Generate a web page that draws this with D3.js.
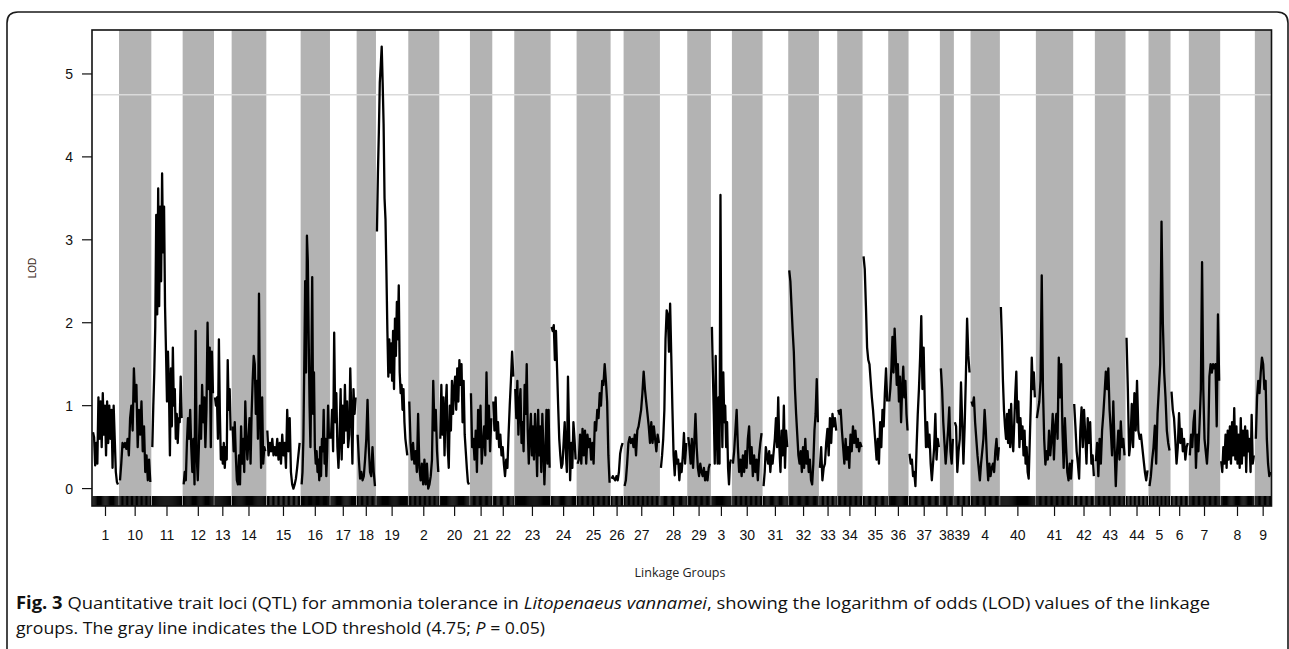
<!DOCTYPE html>
<html>
<head>
<meta charset="utf-8">
<script src="https://cdn.jsdelivr.net/npm/d3@7"></script>
<style>
  body { margin: 0; background: #fff; }
  svg { display: block; }
</style>
</head>
<body>
<svg id="chart" width="1289" height="649"></svg>
<script>
// Linkage groups in map order and their lengths (cM)
const groupNames = ["1","10","11","12","13","14","15","16","17","18","19",
  "2","20","21","22","23","24","25","26","27","28","29",
  "3","30","31","32","33","34","35","36","37","38","39",
  "4","40","41","42","43","44","5","6","7","8","9"];
const groupLengthsCM = [75,91,88,88,47,98,97,82,74,52,91,
  87,86,61,60,103,72,96,33,103,76,65,
  57,86,71,86,49,70,71,55,88,36,44,
  82,102,106,59,86,63,60,49,88,98,44];
const groupGapCM = 6;

// LOD profile along each linkage group (evenly spaced scan positions)
const lodLG1  = [0.68,0.62,0.28,0.55,0.3,1.1,0.6,1.05,0.5,1.15,0.65,1.0,0.4,1.05,0.55,1.0,0.6,0.95,0.25,1.0,0.6,0.2,0.08,0.05];
const lodLG10 = [0.1,0.3,0.55,0.5,0.55,0.48,0.6,0.4,0.85,1.0,0.7,1.45,1.05,1.25,0.5,0.95,0.65,1.05,0.45,0.75,0.2,0.4,0.1,0.35,0.08];
const lodLG11 = [0.5,1.0,1.4,1.95,3.3,2.1,3.62,2.2,3.4,2.5,3.8,2.85,3.4,2.2,1.65,1.05,1.65,1.2,0.4,1.45,0.75,1.7,1.0,1.2,0.6,0.9,0.55,0.85,0.8,1.35,0.85];
const lodLG12 = [0.05,0.2,0.1,0.55,0.85,0.6,0.95,0.5,0.2,0.6,0.05,1.9,0.4,0.1,0.5,1.0,0.6,1.25,0.8,1.1,0.5,0.95,2.0,1.2,1.7,0.5,1.65,1.15];
const lodLG13 = [1.1,1.0,1.1,0.6,1.8,0.9,0.35,0.5,0.3,0.55,0.25,0.5,0.35,1.55,0.95,1.2,0.7];
const lodLG14 = [0.75,0.45,0.8,0.4,0.1,0.05,0.4,0.05,0.75,0.3,0.6,0.2,1.05,0.6,0.35,0.6,0.85,0.3,0.9,1.3,1.6,1.5,0.9,1.3,0.6,2.35,0.9,0.25,1.1,0.3,0.5,0.45];
const lodLG15 = [0.7,0.4,0.55,0.45,0.6,0.4,0.5,0.4,0.6,0.35,0.55,0.3,0.65,0.4,0.55,0.25,0.95,0.45,0.85,0.2,0.05,0.0,0.05,0.12,0.25,0.4,0.55];
const lodLG16 = [0.05,0.2,0.6,1.5,2.5,1.4,3.05,2.75,1.8,1.0,0.5,1.4,2.55,0.9,1.4,0.5,0.3,0.45,0.2,0.35,0.1,0.5,0.15,0.6,0.45,0.95,0.3,0.6,0.15,0.45,1.0,0.6];
const lodLG17 = [0.6,0.95,0.45,1.88,0.8,1.15,0.5,0.25,0.6,1.2,0.35,1.0,0.55,1.25,0.7,1.05,0.5,0.65,1.45,0.9,0.3,1.2,0.9,1.1];
const lodLG18 = [0.65,0.35,0.12,0.2,0.1,0.15,0.35,0.6,1.07,0.5,0.2,0.15,0.5,0.2,0.03];
const lodLG19 = [3.1,3.8,4.3,4.9,5.1,5.33,4.9,4.4,3.5,3.25,2.6,1.9,1.35,1.8,1.4,1.75,1.3,1.9,1.2,2.05,1.6,2.25,1.8,2.45,1.4,1.15,1.25,0.95,1.2,0.8,0.6,0.5,0.4];
const lodLG2  = [1.05,0.55,0.35,0.55,0.3,0.45,0.2,0.9,0.25,0.1,0.3,0.05,0.35,0.05,0.3,0.0,0.05,0.15,0.35,1.3,0.7,0.95,0.45,0.2];
const lodLG20 = [0.6,1.25,0.65,1.1,0.4,0.95,1.25,0.5,0.25,1.0,0.7,1.3,0.9,1.2,1.35,0.95,1.45,1.05,1.55,1.25,1.5,0.8,1.3,0.65,0.45,0.25,0.08,0.05];
const lodLG21 = [1.15,0.5,0.6,0.35,0.7,0.2,0.95,0.5,1.0,0.3,0.55,0.75,0.4,1.4,0.6,1.0,0.45,0.85];
const lodLG22 = [1.05,0.7,1.1,0.6,0.8,0.5,0.65,0.4,0.5,0.3,0.15,0.35,0.25,0.65,1.0,1.3,1.65,1.35];
const lodLG23 = [1.2,0.85,1.3,0.65,1.0,1.2,0.55,0.8,0.45,1.25,0.9,1.5,0.7,0.3,0.65,0.9,0.4,0.75,0.35,0.9,0.6,0.15,0.95,0.4,0.75,0.2,0.9,0.5,0.05,0.45,0.95,0.3,0.95,0.25];
const lodLG24 = [1.95,1.9,1.97,1.55,1.9,1.45,1.0,0.6,0.4,0.25,0.3,0.55,0.8,0.45,0.2,1.35,0.7,0.1,0.55,0.25,0.8,0.6,0.35];
const lodLG25 = [0.3,0.35,0.65,0.3,0.72,0.4,0.7,0.3,0.65,0.5,0.6,0.35,0.55,0.3,0.8,0.7,0.95,0.85,1.15,1.0,1.3,1.25,1.5,1.3,1.05,0.4,0.07];
const lodLG26 = [0.12,0.15,0.12,0.1,0.15,0.1,0.2,0.42,0.5,0.55];
const lodLG27 = [0.03,0.1,0.3,0.55,0.62,0.55,0.6,0.5,0.65,0.4,0.7,0.75,0.85,0.95,1.15,1.41,1.2,1.05,0.9,0.75,0.55,0.8,0.55,0.75,0.6,0.45,0.65,0.55];
const lodLG28 = [0.25,0.4,0.6,0.95,1.8,2.15,2.1,1.65,2.23,1.6,0.95,0.4,0.16,0.45,0.3,0.35,0.1,0.3,0.2,0.4,0.67,0.3,0.55];
const lodLG29 = [0.62,0.5,0.3,0.6,0.25,0.55,0.9,0.5,0.25,0.15,0.3,0.2,0.15,0.25,0.1,0.2,0.1,0.25,0.3];
const lodLG3  = [1.95,1.4,0.9,0.3,1.6,0.7,0.3,1.1,0.3,3.54,1.2,0.5,1.4,0.8,1.0,0.5,0.8,0.25,0.05,0.3,0.35];
const lodLG30 = [0.3,0.45,0.7,0.95,0.5,0.2,0.35,0.15,0.4,0.2,0.45,0.25,0.6,0.75,0.3,0.5,0.15,0.4,0.2,0.35,0.1,0.4,0.55,0.67];
const lodLG31 = [0.03,0.2,0.5,0.4,0.3,0.45,0.2,0.4,0.3,0.45,0.6,0.85,0.5,1.1,0.5,0.2,0.7,0.4,1.0,0.25,0.7,0.5];
const lodLG32 = [2.63,2.5,2.2,1.9,1.65,1.2,0.9,0.65,0.4,0.3,0.45,0.2,0.5,0.25,0.6,0.3,0.45,0.2,0.35,0.1,0.05,0.3,0.7,0.9,1.32,0.8];
const lodLG33 = [0.25,0.5,0.1,0.25,0.3,0.55,0.72,0.4,0.85,0.55,0.9,0.75,0.85,0.7];
const lodLG34 = [0.95,0.9,0.95,0.7,0.5,0.3,0.6,0.35,0.5,0.25,0.65,0.45,0.75,0.55,0.7,0.5,0.6,0.45,0.55,0.5];
const lodLG35 = [2.8,2.65,2.2,1.7,1.55,1.5,1.3,1.1,0.95,0.75,0.55,0.35,0.6,0.3,0.8,0.5,0.95,0.75,1.15,1.45,1.05];
const lodLG36 = [1.05,1.2,1.45,1.83,1.4,1.93,1.6,1.25,1.5,1.05,1.35,0.8,1.2,1.47,1.1,1.3,0.9,0.7];
const lodLG37 = [0.42,0.3,0.35,0.15,0.2,0.03,0.5,0.9,1.2,1.58,2.08,1.2,1.7,1.0,0.5,0.8,0.5,0.65,0.3,0.1,0.3,0.5,0.9,0.35,0.6,0.5];
const lodLG38 = [1.45,1.2,0.8,0.55,0.3,0.5,0.7,0.98,0.45,0.3,0.6];
const lodLG39 = [0.8,0.75,0.2,0.45,0.6,1.28,0.8,0.3,0.75,1.35,2.05,1.6,1.4];
const lodLG4  = [1.05,1.0,1.1,0.8,0.6,0.4,0.25,0.1,0.3,0.45,0.6,0.95,0.7,0.35,0.1,0.3,0.15,0.25,0.3,0.2,0.45,0.6,0.35,0.5];
const lodLG40 = [2.19,1.8,1.3,0.95,0.75,0.6,0.9,0.55,0.95,0.5,1.02,0.6,0.45,0.8,1.15,1.41,0.8,1.05,0.5,0.85,0.6,0.75,0.4,0.7,0.3,0.5,0.2,0.12,0.55,1.0,1.58,1.2,1.4,1.1];
const lodLG41 = [0.85,0.95,1.05,1.3,2.57,1.2,0.6,0.29,0.45,0.35,0.7,0.4,0.6,0.9,0.35,0.75,0.9,0.6,1.58,1.1,1.5,0.7,0.25,0.85,0.5,0.2,0.1,0.3,0.12,0.35];
const lodLG42 = [1.02,0.75,0.45,0.3,0.12,0.7,0.98,0.5,0.95,0.65,0.3,0.85,0.55,0.8,0.3,0.4,0.15];
const lodLG43 = [0.33,0.55,0.15,0.6,0.3,0.7,0.9,1.15,1.41,1.2,1.45,0.95,0.7,0.4,1.05,0.5,0.03,0.45,0.7,0.35,0.81,0.5,0.6,0.4];
const lodLG44 = [1.82,1.2,0.4,0.55,1.02,0.5,1.15,0.7,1.3,0.7,0.6,0.65,0.5,0.35,0.2,0.1,0.22];
const lodLG5  = [0.03,0.15,0.35,0.5,0.76,0.3,0.9,1.2,1.5,3.22,2.0,1.4,1.1,0.7,0.55,0.46];
const lodLG6  = [1.17,0.95,0.85,0.6,0.3,0.5,0.91,0.55,0.72,0.45,0.6,0.35,0.5,0.55];
const lodLG7  = [0.4,0.65,0.5,0.8,0.94,0.25,0.65,0.45,0.8,1.2,2.73,1.2,0.6,0.45,0.3,0.55,1.35,1.5,1.4,1.5,1.45,1.5,0.75,2.1,1.3];
const lodLG8  = [0.33,0.2,0.5,0.3,0.65,0.25,0.7,0.35,0.75,0.3,0.8,0.4,0.97,0.35,0.75,0.3,0.65,0.25,0.85,0.3,0.7,0.4,0.75,0.2,0.7,0.45,0.6,0.2,0.89,0.3,0.4];
const lodLG9  = [0.6,1.1,1.3,1.15,1.4,1.58,1.5,1.2,1.3,0.6,0.3,0.15,0.2];

const lodProfiles = [lodLG1,lodLG10,lodLG11,lodLG12,lodLG13,lodLG14,lodLG15,lodLG16,lodLG17,lodLG18,lodLG19,
  lodLG2,lodLG20,lodLG21,lodLG22,lodLG23,lodLG24,lodLG25,lodLG26,lodLG27,lodLG28,lodLG29,
  lodLG3,lodLG30,lodLG31,lodLG32,lodLG33,lodLG34,lodLG35,lodLG36,lodLG37,lodLG38,lodLG39,
  lodLG4,lodLG40,lodLG41,lodLG42,lodLG43,lodLG44,lodLG5,lodLG6,lodLG7,lodLG8,lodLG9];

const yTickValues = [0, 1, 2, 3, 4, 5];
const lodThreshold = 4.75;

// ---- layout ----
const plot = { left: 92, right: 1271.5, top: 30, bottom: 506 };

// cumulative genome coordinate: each group occupies its length plus a gap
let cursor = 0;
const groups = groupNames.map((name, i) => {
  const start = cursor;
  const span = groupLengthsCM[i] + groupGapCM;
  cursor += span;
  const vals = lodProfiles[i];
  const L = groupLengthsCM[i];
  const pts = vals.map((v, k) => ({
    pos: start + groupGapCM / 2 + (vals.length > 1 ? (k / (vals.length - 1)) * L : L / 2),
    lod: v
  }));
  return { name, start, end: start + span, mid: start + span / 2, pts, index: i };
});
const genomeLength = cursor;

const x = d3.scaleLinear().domain([0, genomeLength]).range([plot.left, plot.right]);
const y = d3.scaleLinear().domain([-0.21, 5.53]).range([plot.bottom, plot.top]);

const svg = d3.select("#chart");

// outer figure frame (rounded top corners)
svg.append("path")
  .attr("d", "M7,649 V23 Q7,12 18,12 H1277 Q1288,12 1288,23 V649")
  .attr("fill", "none").attr("stroke", "#1a1a1a").attr("stroke-width", 1.6);

// alternating linkage-group bands
svg.append("g").selectAll("rect")
  .data(groups.filter(g => g.index % 2 === 1))
  .join("rect")
  .attr("x", d => x(d.start))
  .attr("width", d => x(d.end) - x(d.start))
  .attr("y", plot.top)
  .attr("height", plot.bottom - plot.top)
  .attr("fill", "#b3b3b3");

// significance threshold
svg.append("line")
  .attr("x1", plot.left).attr("x2", plot.right)
  .attr("y1", y(lodThreshold)).attr("y2", y(lodThreshold))
  .attr("stroke", "#dadada").attr("stroke-width", 1.5);

// marker rug along the bottom edge
const rugTop = plot.bottom - 10;
svg.append("g")
  .selectAll("line")
  .data(groups.flatMap(g => g.pts))
  .join("line")
  .attr("x1", d => x(d.pos))
  .attr("x2", d => x(d.pos))
  .attr("y1", rugTop).attr("y2", plot.bottom)
  .attr("stroke", "#000").attr("stroke-width", 1.3);

// LOD profile, one path per linkage group
const line = d3.line().x(d => x(d.pos)).y(d => y(d.lod));
svg.append("g").selectAll("path")
  .data(groups)
  .join("path")
  .attr("d", d => line(d.pts))
  .attr("fill", "none")
  .attr("stroke", "#000")
  .attr("stroke-width", 2.3)
  .attr("stroke-linejoin", "round");

// plot box
svg.append("rect")
  .attr("x", plot.left).attr("y", plot.top)
  .attr("width", plot.right - plot.left).attr("height", plot.bottom - plot.top)
  .attr("fill", "none").attr("stroke", "#111").attr("stroke-width", 1.6);

// y axis
const yAxis = svg.append("g").attr("font-family", "'Liberation Sans', Arial, sans-serif").attr("font-size", 14);
yAxis.selectAll("line").data(yTickValues).join("line")
  .attr("x1", plot.left - 10).attr("x2", plot.left)
  .attr("y1", d => y(d)).attr("y2", d => y(d))
  .attr("stroke", "#111").attr("stroke-width", 1.2);
yAxis.selectAll("text").data(yTickValues).join("text")
  .attr("x", plot.left - 19).attr("y", d => y(d))
  .attr("dy", "0.36em").attr("text-anchor", "end").attr("fill", "#111")
  .text(d => d);

// x axis: one tick per linkage group
const xAxis = svg.append("g").attr("font-family", "'Liberation Sans', Arial, sans-serif").attr("font-size", 14);
xAxis.selectAll("line").data(groups).join("line")
  .attr("x1", d => x(d.mid)).attr("x2", d => x(d.mid))
  .attr("y1", plot.bottom).attr("y2", plot.bottom + 10)
  .attr("stroke", "#111").attr("stroke-width", 1.2);
xAxis.selectAll("text").data(groups).join("text")
  .attr("x", d => x(d.mid)).attr("y", 539.5)
  .attr("text-anchor", "middle").attr("fill", "#111")
  .text(d => d.name);

// axis titles
svg.append("text")
  .attr("transform", `translate(36, ${(plot.top + plot.bottom) / 2}) rotate(-90)`)
  .attr("text-anchor", "middle")
  .attr("font-family", "'Liberation Sans', Arial, sans-serif").attr("font-size", 10)
  .attr("fill", "#3a2a1a")
  .text("LOD");

svg.append("text")
  .attr("x", 680).attr("y", 577)
  .attr("text-anchor", "middle")
  .attr("font-family", "'Open Sans', sans-serif").attr("font-size", 12.5)
  .attr("fill", "#222")
  .text("Linkage Groups");

// figure caption
const cap1 = svg.append("text")
  .attr("x", 16).attr("y", 609)
  .attr("font-family", "'Open Sans', sans-serif").attr("font-size", 17)
  .attr("fill", "#111")
  .attr("textLength", 1194).attr("lengthAdjust", "spacingAndGlyphs");
cap1.append("tspan").attr("font-weight", "bold").text("Fig. 3");
cap1.append("tspan").text(" Quantitative trait loci (QTL) for ammonia tolerance in ");
cap1.append("tspan").attr("font-style", "italic").text("Litopenaeus vannamei");
cap1.append("tspan").text(", showing the logarithm of odds (LOD) values of the linkage");

const cap2 = svg.append("text")
  .attr("x", 16).attr("y", 634)
  .attr("font-family", "'Open Sans', sans-serif").attr("font-size", 17)
  .attr("fill", "#111")
  .attr("textLength", 529).attr("lengthAdjust", "spacingAndGlyphs");
cap2.append("tspan").text("groups. The gray line indicates the LOD threshold (4.75; ");
cap2.append("tspan").attr("font-style", "italic").text("P");
cap2.append("tspan").text(" = 0.05)");
</script>
</body>
</html>
